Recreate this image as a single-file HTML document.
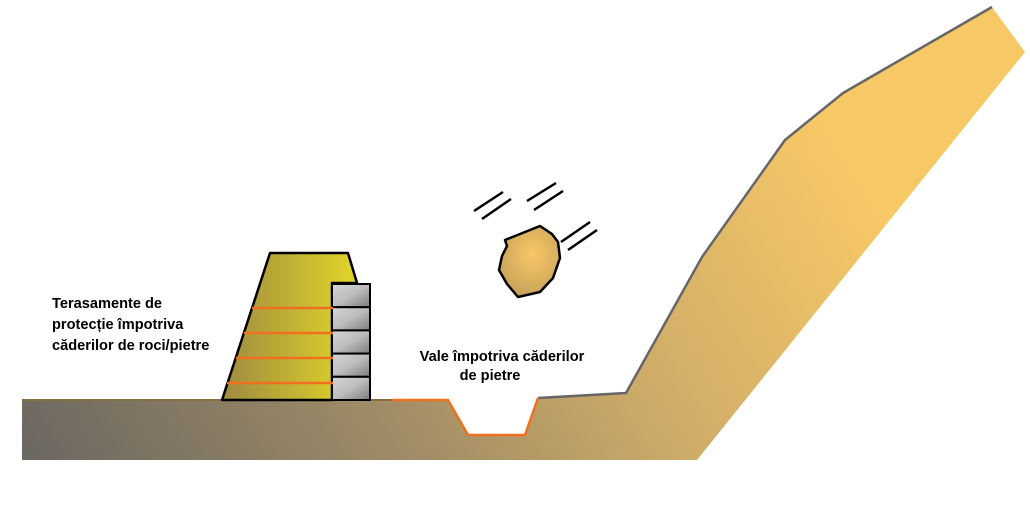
<!DOCTYPE html>
<html><head><meta charset="utf-8"><style>
html,body{margin:0;padding:0;background:#fff;width:1030px;height:507px;overflow:hidden}
text{font-family:"Liberation Sans","DejaVu Sans",sans-serif;font-weight:bold;font-size:14.6px;fill:#000}
</style></head><body>
<svg width="1030" height="507" viewBox="0 0 1030 507" xmlns="http://www.w3.org/2000/svg">
<defs>
<linearGradient id="gnd2" gradientUnits="userSpaceOnUse" x1="40" y1="470" x2="760" y2="20">
<stop offset="0" stop-color="#6c6862"/><stop offset="0.4" stop-color="#a38e66"/><stop offset="0.65" stop-color="#cdab68"/><stop offset="1" stop-color="#f7c866"/>
</linearGradient>
<linearGradient id="wall" x1="0" y1="0" x2="1" y2="0">
<stop offset="0" stop-color="#9f8a40"/><stop offset="1" stop-color="#e2d629"/>
</linearGradient>
<linearGradient id="blk" x1="0" y1="0" x2="1" y2="1">
<stop offset="0" stop-color="#d4d4d4"/><stop offset="0.5" stop-color="#bdbdbd"/><stop offset="1" stop-color="#7c7c7c"/>
</linearGradient>
<radialGradient id="rock" cx="0.55" cy="0.4" r="0.6">
<stop offset="0" stop-color="#f7c866"/><stop offset="1" stop-color="#c9a35a"/>
</radialGradient>
</defs>
<polygon points="22,400 448,400 468,435 525,435 538,398 626,393 702,257 785,140 843,93 992,7 1025,52 697,460 22,460" fill="url(#gnd2)"/>
<polyline points="538,398 626,393 702,257 785,140 843,93 992,7" fill="none" stroke="#666" stroke-width="2.5"/>
<polyline points="392,400 448,400 468,435 525,435 538,398" fill="none" stroke="#f07020" stroke-width="2.5"/>
<line x1="22" y1="400" x2="392" y2="400" stroke="#857040" stroke-width="2"/>
<polygon points="222,400 270,253 348,253 357,283 332,283 332,400" fill="url(#wall)" stroke="#000" stroke-width="2.5" stroke-linejoin="round"/>
<line x1="332" y1="283" x2="332" y2="400" stroke="#000" stroke-width="2"/>
<g stroke="#000" stroke-width="2" fill="url(#blk)">
<rect x="332" y="284" width="38" height="23.2"/>
<rect x="332" y="307.2" width="38" height="23.2"/>
<rect x="332" y="330.4" width="38" height="23.2"/>
<rect x="332" y="353.6" width="38" height="23.2"/>
<rect x="332" y="376.8" width="38" height="23.2"/>
</g>
<g stroke="#f07020" stroke-width="2.5">
<line x1="252" y1="308" x2="333" y2="308"/>
<line x1="244" y1="333" x2="333" y2="333"/>
<line x1="236" y1="358" x2="333" y2="358"/>
<line x1="227" y1="383" x2="333" y2="383"/>
</g>
<polygon points="505,240 540,226 552,234 558,242 560,258 553,278 540,292 518,297 507,284 499,270 502,256 507,246" fill="url(#rock)" stroke="#000" stroke-width="2.5" stroke-linejoin="round"/>
<g stroke="#000" stroke-width="2.5">
<line x1="474" y1="211" x2="503" y2="192"/><line x1="482" y1="219" x2="511" y2="199"/>
<line x1="527" y1="201" x2="556" y2="183"/><line x1="534" y1="210" x2="563" y2="191"/>
<line x1="561" y1="242" x2="590" y2="222"/><line x1="568" y1="250" x2="597" y2="230"/>
</g>
<text x="52" y="308">Terasamente de</text>
<text x="52" y="329">protecție împotriva</text>
<text x="52" y="350">căderilor de roci/pietre</text>
<text x="502" y="361" text-anchor="middle">Vale împotriva căderilor</text>
<text x="490" y="380" text-anchor="middle">de pietre</text>
</svg>
</body></html>
